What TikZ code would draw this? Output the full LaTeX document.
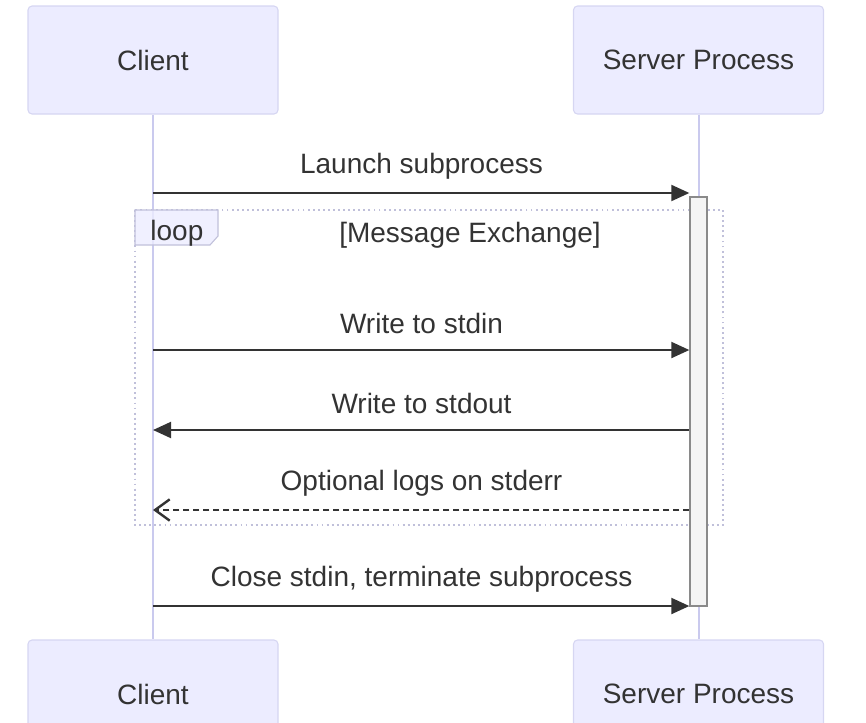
\documentclass[tikz,border=0pt]{standalone}
\usepackage{fontspec}
\setmainfont{Liberation Sans}
\usetikzlibrary{arrows.meta,positioning}
\definecolor{actorfill}{HTML}{ECECFF}
\definecolor{actorline}{HTML}{D6D6F2}
\definecolor{lifecol}{HTML}{CACAEE}
\definecolor{inkdark}{HTML}{333333}
\definecolor{actfill}{HTML}{F4F4F4}
\definecolor{actline}{HTML}{8A8A8A}
\definecolor{loopcol}{HTML}{C0C0DA}
\begin{document}
\begin{tikzpicture}[x=0.75pt,y=-0.75pt,line width=1.5pt,
  every node/.style={font=\fontsize{21}{25}\selectfont,text=inkdark},
  actor/.style={rectangle,rounded corners=3pt,fill=actorfill,draw=actorline,line width=0.8pt,
    minimum width=187.5pt,minimum height=81pt},
  lifeline/.style={draw=lifecol,line width=1.5pt},
  activation/.style={rectangle,fill=actfill,draw=actline,line width=1pt,
    minimum width=12.75pt,minimum height=306.75pt,inner sep=0pt},
  loopframe/.style={draw=loopcol,line width=1.4pt,dash pattern=on 1.4pt off 2.4pt},
  call/.style={draw=inkdark,-{Triangle[length=13.5pt,width=12pt]}},
  reply/.style={draw=inkdark,-{Triangle[length=13.5pt,width=12pt]}},
  logreply/.style={draw=inkdark,dash pattern=on 4.5pt off 3pt,
    -{Straight Barb[length=11pt,width=16pt,line width=1.8pt]}}]
 \useasboundingbox (0,0) rectangle (866,722);
 % actors
 \node[actor] (clientTop) at (153,60) {Client};
 \node[actor] (serverTop) at (698.5,60) {Server Process};
 \node[actor] (clientBot) at (153,694) {Client};
 \node[actor] (serverBot) at (698.5,694) {Server Process};
 \draw[lifeline] (clientTop.south) -- (clientBot.north);
 \draw[lifeline] (serverTop.south) -- (serverBot.north);
 % loop frame
 \draw[loopframe] (135,210) rectangle (723,525);
 \draw[draw=loopcol,fill=actorfill,fill opacity=0.8,line width=0.8pt]
   (135,210) -- (218,210) -- (218,236) -- (210,245) -- (135,245) -- cycle;
 \node[anchor=west] (loopTag) at (145,233) {loop};
 \node (loopCond) at (470,235) {[Message Exchange]};
 \node[activation] (act) at (698.5,401.5) {};
 % messages
 \foreach \i/\y/\txt in {1/193/Launch subprocess,2/350/Write to stdin,
   3/606/{Close stdin, terminate subprocess}} {
   \coordinate (cl\i) at (153,\y);
   \draw[call] (cl\i) -- (act.west |- cl\i);
   \node (msg\i) at (421.5,\y-27) {\txt};
 }
 \coordinate (cl4) at (153,430); \coordinate (cl5) at (153,510);
 \draw[reply] (act.west |- cl4) -- (cl4);
 \node (msg4) at (421.5,403) {Write to stdout};
 \draw[logreply] (act.west |- cl5) -- (cl5);
 \node (msg5) at (421.5,483) {Optional logs on stderr};
\end{tikzpicture}
\end{document}
